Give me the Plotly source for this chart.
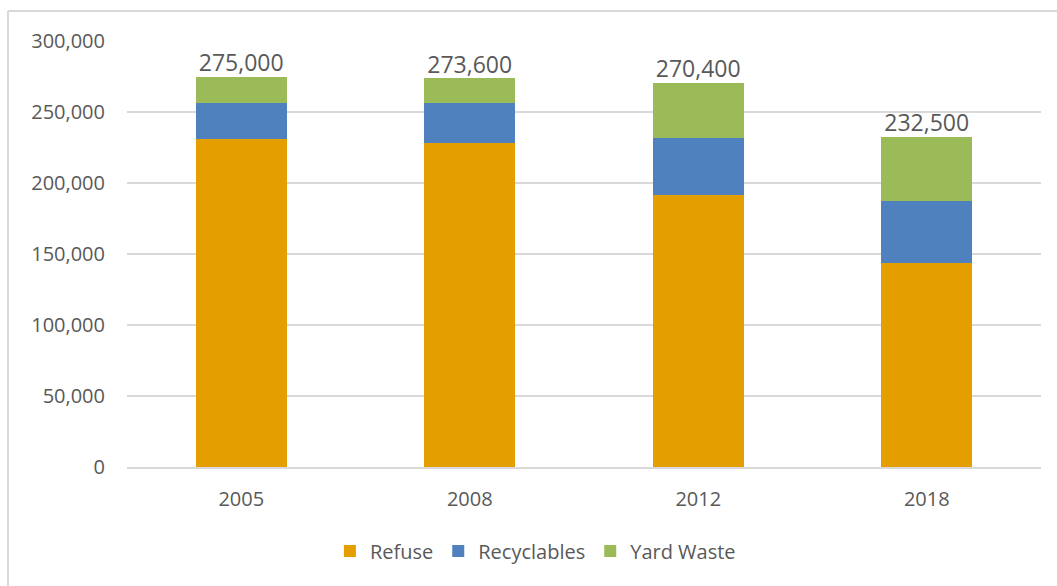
import plotly.graph_objects as go

# Waste tonnage by year
years = ["2005", "2008", "2012", "2018"]
refuse = [231000, 228000, 191500, 144000]
recyclables = [25000, 28000, 40500, 43000]
yard_waste = [19000, 17600, 38400, 45500]
totals = [275000, 273600, 270400, 232500]
y_ticks = [0, 50000, 100000, 150000, 200000, 250000, 300000]

FONT = "Open Sans"
TXT = "#595959"
GRID = "#d9d9d9"

fig = go.Figure()
fig.add_trace(go.Bar(name="Refuse", x=years, y=refuse, marker_color="#E59E00",
                     marker_line_width=0))
fig.add_trace(go.Bar(name="Recyclables", x=years, y=recyclables, marker_color="#4E81BD",
                     marker_line_width=0))
fig.add_trace(go.Bar(name="Yard Waste", x=years, y=yard_waste, marker_color="#9BBB59",
                     marker_line_width=0))
fig.add_trace(go.Scatter(x=years, y=totals, mode="text",
                         text=[f"{v:,}" for v in totals], textposition="top center",
                         textfont=dict(family=FONT, size=23, color=TXT),
                         showlegend=False, hoverinfo="skip"))

fig.update_layout(
    barmode="stack",
    bargap=0.6,
    width=1057, height=586,
    margin=dict(l=127, r=16, t=41, b=119),
    paper_bgcolor="white", plot_bgcolor="white",
    font=dict(family=FONT, color=TXT, size=20),
    showlegend=True,
    legend=dict(orientation="h", x=0.222, y=-0.197, xanchor="left", yanchor="middle",
                font=dict(family=FONT, size=20, color=TXT), traceorder="normal",
                itemwidth=30),
    xaxis=dict(showgrid=False, showline=True, linecolor=GRID, linewidth=2,
               ticks="", tickfont=dict(family=FONT, size=20, color=TXT),
               ticklabelstandoff=13),
    yaxis=dict(range=[0, 300000], tickvals=y_ticks,
               ticktext=[f"{v:,}" for v in y_ticks],
               showgrid=True, gridcolor=GRID, gridwidth=2, zeroline=False,
               showline=False, ticks="", ticklabelstandoff=21,
               tickfont=dict(family=FONT, size=20, color=TXT)),
    shapes=[
        dict(type="line", xref="paper", yref="paper", x0=-0.1302, x1=1.03,
             y0=1.0704, y1=1.0704, line=dict(color=GRID, width=2)),
        dict(type="line", xref="paper", yref="paper", x0=-0.1302, x1=-0.1302,
             y0=1.0704, y1=-0.3, line=dict(color=GRID, width=2)),
    ],
)

fig.write_html("out.html")
